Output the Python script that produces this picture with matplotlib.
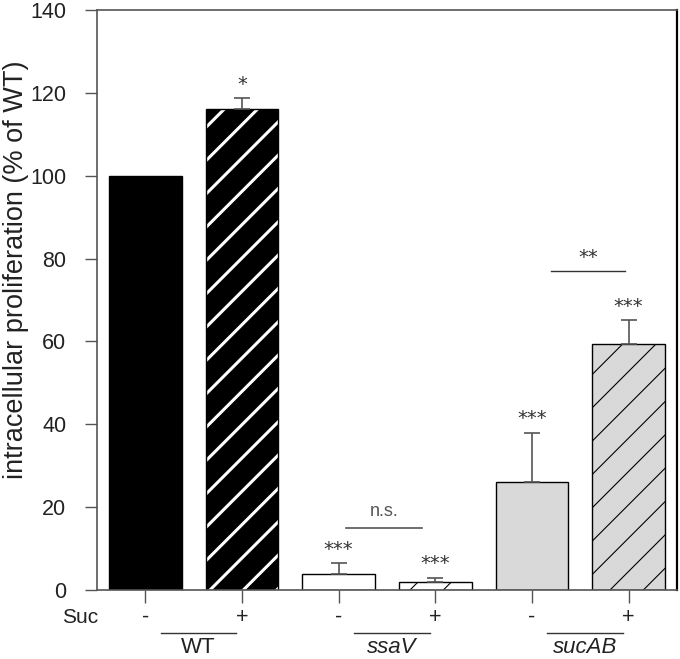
import numpy as np
import matplotlib.pyplot as plt

plt.rcParams['font.family'] = ['Liberation Sans', 'DejaVu Sans']

# data
suc = ['-', '+', '-', '+', '-', '+']
groups = ['WT', 'ssaV', 'sucAB']
values = [100, 116, 3.8, 2.0, 26, 59.3]
errors = [0, 2.8, 2.6, 1.0, 12, 5.8]
stars = ['', '*', '***', '***', '***', '***']
faces = ['black', 'black', 'white', 'white', '#d9d9d9', '#d9d9d9']
hatches = [None, '/', None, '/', None, '/']
hatch_cols = [None, 'white', None, 'black', None, 'black']

x = np.arange(len(values))
gray = '#555555'
txt = '#222222'

fig = plt.figure(figsize=(6.8, 6.59), dpi=100)
ax = fig.add_axes([0.1426, 0.1047, 0.853, 0.880])

for i in range(len(values)):
    if hatches[i]:
        b = ax.bar(x[i], values[i], 0.75, color=faces[i], edgecolor=hatch_cols[i],
                   hatch=hatches[i], linewidth=0)
        lw = 2.2 if hatch_cols[i] == 'white' else 0.8
        try:
            b[0].set_hatch_linewidth(lw)
        except AttributeError:
            pass
    ax.bar(x[i], values[i], 0.75, color=faces[i] if not hatches[i] else 'none',
           edgecolor='black', linewidth=1.0)
    if errors[i] > 0:
        ax.errorbar(x[i], values[i], yerr=[[0], [errors[i]]], fmt='none',
                    ecolor=gray, elinewidth=1.2, capsize=6, capthick=1.2)
    if stars[i]:
        ax.text(x[i], values[i] + errors[i] + 2.0, stars[i], ha='center', va='baseline',
                fontsize=14, color='#333333', family='DejaVu Sans')

# comparison brackets
ax.plot([2.08, 2.86], [15, 15], color=gray, lw=1.2)
ax.text(2.47, 17, 'n.s.', ha='center', va='bottom', fontsize=13, color='#555555')
ax.plot([4.2, 4.96], [77, 77], color='#333333', lw=1.0)
ax.text(4.58, 79, '**', ha='center', va='baseline', fontsize=14, color='#333333',
        family='DejaVu Sans')

ax.set_xlim(-0.5, 5.5)
ax.set_ylim(0, 140)
ax.set_yticks(np.arange(0, 141, 20))
ax.set_xticks(x)
ax.set_xticklabels([])
ax.tick_params(axis='y', direction='out', length=9, width=1, color=gray,
               labelsize=15.5, labelcolor=txt, pad=13)
ax.tick_params(axis='x', direction='out', length=9, width=1, color=gray)
fig.text(16 / 680, 1 - 270 / 659, 'intracellular proliferation (% of WT)', rotation=90,
         ha='center', va='center', fontsize=19.5, color=txt)

for s in ['left', 'bottom', 'top']:
    ax.spines[s].set_color(gray)
    ax.spines[s].set_linewidth(1.2)
ax.spines['right'].set_color('black')
ax.spines['right'].set_linewidth(1.6)

# Suc row and group labels
trans = ax.get_xaxis_transform()
ax.text(-0.49, -0.047, 'Suc', transform=trans, ha='right', va='center', fontsize=15,
        color=txt)
for i in range(len(suc)):
    ax.text(x[i], -0.047, suc[i], transform=trans, ha='center', va='center',
            fontsize=15.5, color=txt)
for g, name in enumerate(groups):
    c = 2 * g + 0.55
    ax.plot([c - 0.39, c + 0.39], [-0.074, -0.074], transform=trans, color='#333333',
            lw=1.0, clip_on=False)
    ax.text(c, -0.1, name, transform=trans, ha='center', va='center', fontsize=16,
            color=txt, style='normal' if g == 0 else 'italic')

fig.savefig('out.png', dpi=100)
